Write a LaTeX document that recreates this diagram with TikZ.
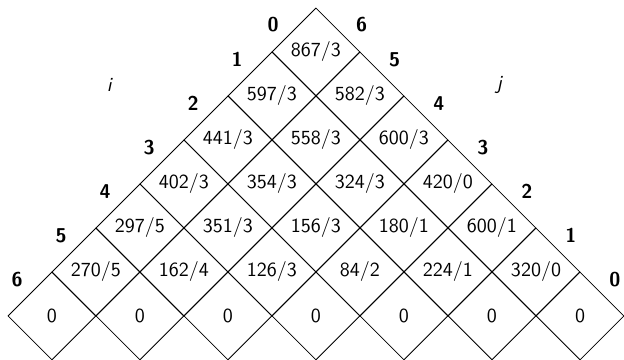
\documentclass[tikz,border=0pt]{standalone}
\usetikzlibrary{shapes.geometric}
\begin{document}
\begin{tikzpicture}[x=22pt,y=22pt,font=\sffamily,
    cell/.style={draw,diamond,aspect=1,inner sep=0pt,minimum size=44pt},
    idx/.style={font=\sffamily\bfseries}]
  \useasboundingbox (-0.18,0) rectangle (14,8.18);
  %% Row 0 (bottom)
  \foreach \c in {0,...,6}
    \node[cell] (c0\c) at ({1+2*\c},1) {0};
  %% Row 1
  \foreach \a/\b [count=\c from 0] in {270/5,162/4,126/3,84/2,224/1,320/0}
    \node[cell] (c1\c) at ({2+2*\c},2) {\a/\b};
  %% Row 2
  \foreach \a/\b [count=\c from 0] in {297/5,351/3,156/3,180/1,600/1}
    \node[cell] (c2\c) at ({3+2*\c},3) {\a/\b};
  %% Row 3
  \foreach \a/\b [count=\c from 0] in {402/3,354/3,324/3,420/0}
    \node[cell] (c3\c) at ({4+2*\c},4) {\a/\b};
  %% Row 4
  \foreach \a/\b [count=\c from 0] in {441/3,558/3,600/3}
    \node[cell] (c4\c) at ({5+2*\c},5) {\a/\b};
  %% Row 5
  \foreach \a/\b [count=\c from 0] in {597/3,582/3}
    \node[cell] (c5\c) at ({6+2*\c},6) {\a/\b};
  %% Row 6 (top)
  \node[cell] (c60) at (7,7) {867/3};
  %% Index labels along both edges
  \foreach \r in {0,...,5}{
    \pgfmathtruncatemacro\k{6-\r}
    \node[idx,above left] (i\k) at (c\r0.north west) {\k};
    \node[idx,above right] (j\r) at (c\r\k.north east) {\r};
  }
  \node[idx,above left,yshift=-4.5pt,xshift=-4pt] (i0) at (c60.north west) {0};
  \node[idx,above right,yshift=-4.5pt,xshift=5.5pt] (j6) at (c60.north east) {6};
  %% Axis names
  \node (ilab) at (2.32,6.25) {\textit{i}};
  \node (jlab) at (11.18,6.25) {\textit{j}};
\end{tikzpicture}
\end{document}
